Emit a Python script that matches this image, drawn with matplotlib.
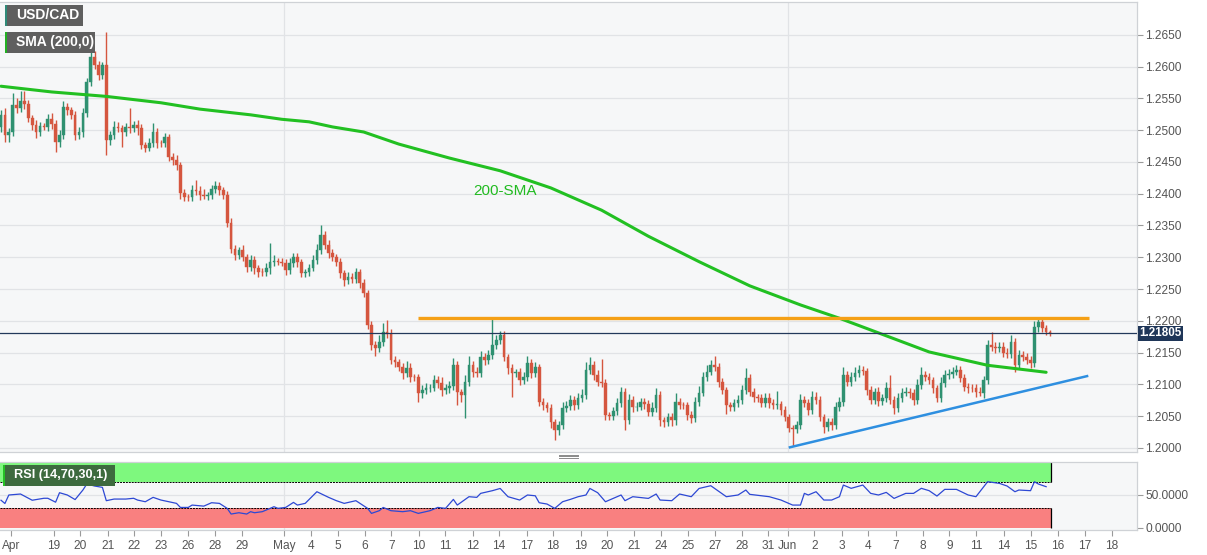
import numpy as np
import matplotlib.pyplot as plt
from matplotlib.patches import Rectangle
from matplotlib.lines import Line2D

plt.rcParams['font.family'] = ['Liberation Sans', 'DejaVu Sans']

# ---- data (4H candles) ----
first_open = 1.2505
closes = [
    1.2524, 1.2492, 1.2497, 1.2539, 1.2535, 1.2546, 1.2541, 1.2519, 1.2508, 1.2497,
    1.2506, 1.2505, 1.2517, 1.2510, 1.2481, 1.2492, 1.2536, 1.2532, 1.2524, 1.2492,
    1.2497, 1.2527, 1.2576, 1.2615, 1.2602, 1.2587, 1.2602, 1.2484, 1.2492, 1.2505,
    1.2503, 1.2497, 1.2505, 1.2503, 1.2508, 1.2503, 1.2477, 1.2472, 1.2480, 1.2497,
    1.2480, 1.2479, 1.2489, 1.2458, 1.2453, 1.2445, 1.2401, 1.2395, 1.2394, 1.2406,
    1.2404, 1.2398, 1.2396, 1.2398, 1.2407, 1.2412, 1.2406, 1.2398, 1.2354, 1.2313,
    1.2303, 1.2311, 1.2300, 1.2285, 1.2296, 1.2283, 1.2277, 1.2276, 1.2283, 1.2292,
    1.2294, 1.2293, 1.2291, 1.2280, 1.2291, 1.2300, 1.2292, 1.2275, 1.2276, 1.2283,
    1.2296, 1.2311, 1.2335, 1.2319, 1.2307, 1.2300, 1.2292, 1.2275, 1.2264, 1.2269,
    1.2266, 1.2277, 1.2259, 1.2244, 1.2193, 1.2162, 1.2157, 1.2167, 1.2182, 1.2179,
    1.2138, 1.2135, 1.2127, 1.2118, 1.2126, 1.2112, 1.2111, 1.2087, 1.2091, 1.2094,
    1.2095, 1.2107, 1.2102, 1.2091, 1.2094, 1.2097, 1.2130, 1.2088, 1.2083, 1.2104,
    1.2130, 1.2120, 1.2118, 1.2143, 1.2138, 1.2146, 1.2162, 1.2170, 1.2178, 1.2143,
    1.2126, 1.2118, 1.2119, 1.2107, 1.2112, 1.2134, 1.2118, 1.2127, 1.2072, 1.2068,
    1.2063, 1.2041, 1.2028, 1.2036, 1.2063, 1.2066, 1.2075, 1.2068, 1.2079, 1.2083,
    1.2123, 1.2130, 1.2115, 1.2104, 1.2102, 1.2052, 1.2050, 1.2058, 1.2071, 1.2088,
    1.2044, 1.2075, 1.2064, 1.2065, 1.2072, 1.2069, 1.2057, 1.2063, 1.2083, 1.2044,
    1.2041, 1.2049, 1.2044, 1.2072, 1.2068, 1.2067, 1.2052, 1.2047, 1.2072, 1.2087,
    1.2112, 1.2120, 1.2130, 1.2127, 1.2104, 1.2091, 1.2068, 1.2064, 1.2071, 1.2075,
    1.2091, 1.2110, 1.2088, 1.2080, 1.2079, 1.2071, 1.2078, 1.2071, 1.2068, 1.2069,
    1.2060, 1.2049, 1.2031, 1.2030, 1.2036, 1.2075, 1.2071, 1.2060, 1.2080, 1.2075,
    1.2049, 1.2033, 1.2041, 1.2036, 1.2064, 1.2072, 1.2115, 1.2104, 1.2112, 1.2118,
    1.2123, 1.2121, 1.2091, 1.2075, 1.2088, 1.2074, 1.2079, 1.2094, 1.2075, 1.2063,
    1.2079, 1.2087, 1.2088, 1.2086, 1.2075, 1.2099, 1.2115, 1.2112, 1.2107, 1.2094,
    1.2079, 1.2102, 1.2115, 1.2116, 1.2120, 1.2123, 1.2110, 1.2096, 1.2095, 1.2094,
    1.2088, 1.2087, 1.2107, 1.2162, 1.2159, 1.2157, 1.2158, 1.2149, 1.2148, 1.2167,
    1.2130, 1.2146, 1.2143, 1.2138, 1.2134, 1.2190, 1.2198, 1.2189, 1.2182, 1.21805,
]
# wick lengths beyond the body, in pips
wick_up = [
    8, 10, 6, 20, 12, 15, 15, 6, 5, 8,
    6, 5, 8, 10, 6, 8, 10, 6, 5, 6,
    8, 8, 6, 8, 10, 6, 5, 53, 6, 10,
    8, 5, 6, 30, 6, 8, 6, 4, 8, 14,
    6, 5, 6, 5, 6, 8, 5, 6, 5, 8,
    15, 8, 10, 4, 6, 8, 6, 5, 6, 8,
    6, 5, 8, 5, 8, 6, 5, 6, 8, 30,
    10, 5, 6, 6, 8, 6, 6, 5, 5, 6,
    8, 10, 15, 6, 8, 6, 5, 6, 5, 8,
    6, 6, 5, 6, 5, 6, 6, 10, 15, 20,
    8, 6, 5, 6, 10, 8, 5, 6, 8, 8,
    6, 8, 6, 10, 6, 8, 12, 6, 5, 10,
    15, 6, 8, 10, 6, 8, 41, 8, 6, 6,
    5, 6, 5, 6, 8, 10, 6, 8, 5, 6,
    5, 6, 4, 6, 10, 8, 8, 6, 8, 10,
    12, 13, 6, 8, 36, 6, 5, 6, 8, 8,
    6, 10, 6, 8, 6, 6, 6, 10, 12, 6,
    5, 6, 6, 15, 6, 5, 6, 6, 8, 10,
    8, 10, 8, 14, 6, 6, 5, 5, 6, 8,
    8, 15, 6, 6, 5, 6, 8, 8, 6, 20,
    5, 6, 5, 5, 6, 10, 6, 6, 10, 8,
    6, 5, 6, 6, 8, 8, 12, 6, 8, 10,
    8, 6, 5, 6, 6, 8, 6, 10, 20, 6,
    8, 8, 8, 6, 6, 10, 12, 6, 6, 5,
    5, 10, 8, 8, 8, 8, 6, 6, 6, 5,
    6, 8, 6, 8, 20, 8, 8, 8, 8, 10,
    6, 8, 6, 6, 6, 10, 6, 5, 5, 4,
]
wick_dn = [
    8, 10, 10, 6, 8, 6, 8, 6, 8, 10,
    6, 5, 6, 8, 15, 8, 6, 8, 6, 8,
    6, 8, 6, 6, 6, 8, 6, 23, 8, 6,
    6, 24, 6, 8, 6, 10, 6, 6, 5, 6,
    8, 5, 6, 6, 8, 8, 10, 6, 5, 6,
    6, 8, 5, 6, 6, 6, 8, 6, 6, 6,
    8, 6, 6, 8, 6, 10, 8, 6, 6, 10,
    6, 6, 5, 8, 6, 6, 8, 6, 6, 6,
    5, 6, 6, 6, 8, 6, 6, 8, 10, 6,
    6, 6, 8, 6, 6, 8, 12, 6, 6, 6,
    6, 8, 6, 10, 6, 8, 6, 15, 8, 6,
    6, 6, 8, 10, 6, 8, 6, 20, 10, 36,
    6, 8, 6, 6, 8, 6, 6, 6, 6, 6,
    10, 38, 6, 8, 6, 6, 8, 6, 6, 8,
    6, 10, 16, 8, 6, 6, 6, 8, 6, 6,
    6, 6, 8, 6, 6, 8, 6, 6, 6, 6,
    16, 6, 8, 6, 6, 8, 6, 6, 6, 10,
    8, 6, 10, 8, 6, 6, 8, 8, 6, 6,
    6, 6, 6, 6, 8, 6, 15, 6, 6, 6,
    6, 6, 6, 8, 6, 6, 6, 8, 6, 6,
    8, 6, 6, 27, 6, 6, 6, 8, 6, 6,
    6, 10, 6, 8, 6, 6, 6, 6, 6, 6,
    6, 6, 8, 6, 6, 8, 6, 6, 6, 10,
    6, 6, 6, 8, 8, 6, 6, 6, 6, 8,
    6, 6, 6, 6, 6, 6, 6, 6, 8, 6,
    8, 6, 8, 6, 6, 8, 6, 6, 6, 6,
    10, 6, 6, 6, 8, 6, 8, 6, 5, 4,
]

# 200-period SMA (candle index, value)
sma_idx = [0, 13, 27, 41, 51, 64, 72, 79, 85, 93, 102, 115, 128, 141, 154,
           166, 179, 192, 205, 215, 225, 238, 253, 268]
sma_val = [1.2569, 1.2560, 1.2553, 1.2543, 1.2533, 1.2524, 1.2517, 1.2513, 1.2505,
           1.2497, 1.2478, 1.2456, 1.2436, 1.2409, 1.2374, 1.2333, 1.2293, 1.2255,
           1.2225, 1.2204, 1.2181, 1.2151, 1.2130, 1.2119]

# RSI(14) (candle index, value)
rsi_idx = [0, 1, 2, 5, 8, 11, 12, 14, 15, 17, 19, 21, 22, 24, 26, 27, 29, 32, 34, 35,
           37, 39, 41, 43, 45, 46, 48, 49, 52, 54, 56, 58, 59, 61, 63, 64, 65, 67, 68,
           70, 71, 73, 75, 76, 78, 81, 84, 86, 88, 91, 94, 95, 97, 98, 100, 103, 105,
           107, 110, 112, 114, 116, 117, 120, 122, 123, 126, 128, 130, 133, 135, 137,
           138, 140, 142, 144, 146, 148, 150, 151, 153, 155, 159, 160, 162, 166, 168,
           169, 172, 174, 177, 179, 182, 186, 189, 191, 192, 197, 200, 203, 205, 206,
           207, 209, 211, 213, 215, 216, 218, 221, 223, 225, 227, 229, 232, 234, 236,
           238, 240, 242, 245, 248, 250, 253, 256, 258, 260, 261, 264, 265, 266, 268]
rsi_val = [42, 37, 50, 51.5, 42, 45, 45, 39, 53.5, 50, 43, 57.6, 66.8, 63.7, 61.7, 41.3,
           43.8, 43.8, 45, 42.3, 39.7, 46.4, 42.3, 39.7, 37.2, 31, 31, 34.6, 33, 38.2,
           37.2, 29.6, 20.9, 22.9, 20.9, 24.5, 22.9, 24.5, 27, 32.1, 29.6, 31, 38.7,
           34.6, 37.2, 55, 46.4, 41.3, 37.2, 41.3, 29.6, 21.9, 26, 31, 26, 24.5, 26,
           21.9, 26, 31, 29.6, 43.3, 34.6, 47.4, 46.4, 52.5, 56.6, 60, 47.4, 42.3, 50,
           48.8, 38.2, 36.2, 29.6, 39.7, 43.3, 47.4, 50, 60, 53.5, 39.7, 50, 41.3, 47.4,
           44.8, 51.5, 42.3, 41.3, 51.5, 47.4, 60, 64.2, 47.4, 50, 57.6, 51, 47.4, 42.3,
           34.6, 34.6, 52.5, 50, 55, 42.3, 42.3, 47.4, 65.2, 60.2, 65.2, 52.5, 50, 54,
           44.8, 52.5, 52.5, 60.2, 56.6, 48.4, 58.6, 58.6, 50, 47.4, 70.3, 67.8, 63.7,
           55, 57.6, 56.6, 70.3, 66.8, 62.7]

tick_labels = ['Apr', '19', '20', '21', '22', '23', '26', '28', '29', 'May', '4', '5',
               '6', '7', '10', '11', '12', '14', '17', '18', '19', '20', '21', '24',
               '25', '27', '28', '31', 'Jun', '2', '3', '4', '7', '8', '9', '11', '14',
               '15', '16', '17', '18']
tick_idx = [2.6, 13.6, 20.3, 27.4, 34.1, 41.0, 47.9, 54.9, 61.8, 72.6, 79.5, 86.4,
            93.3, 100.1, 107.2, 113.8, 121.0, 127.7, 134.9, 141.5, 148.7, 155.3,
            162.3, 169.2, 176.1, 183.1, 190.0, 196.8, 201.7, 208.6, 215.6, 222.4,
            229.4, 236.3, 243.2, 250.1, 257.1, 264.0, 271.0, 277.9, 284.8]
month_idx = [72.6, 201.7]

resistance = 1.2205
res_idx = [107, 279]
support_idx = [202.3, 278.5]
support_val = [1.2001, 1.2113]
last_price = 1.21805

# ---- build candles ----
closes = np.array(closes)
opens = np.r_[first_open, closes[:-1]]
highs = np.maximum(opens, closes) + np.array(wick_up) * 1e-4
lows = np.minimum(opens, closes) - np.array(wick_dn) * 1e-4
x = np.arange(len(closes))
up = closes >= opens
GREEN, RED = '#2f9171', '#d5563f'
colors = np.where(up, GREEN, RED)

W, H = 1207, 555
fig = plt.figure(figsize=(W / 100, H / 100), dpi=100)
fig.patch.set_facecolor('white')


def fx(px):
    return px / W


def fy(py):
    return 1 - py / H


ax = fig.add_axes([0, fy(452), fx(1137), fy(2) - fy(452)])
ax2 = fig.add_axes([0, fy(530), fx(1137), fy(461.7) - fy(530)])
XLIM = (-0.26, 291.3)
BG = '#f6f7f8'

for a in (ax, ax2):
    a.set_facecolor(BG)
    a.set_xlim(*XLIM)
    a.spines['left'].set_visible(False)
    for s in ('right', 'top', 'bottom'):
        a.spines[s].set_color('#cfd2d6')
        a.spines[s].set_linewidth(0.9)
    a.yaxis.tick_right()
    a.tick_params(axis='y', colors='#9a9a9a', labelcolor='#555555', labelsize=8.6,
                  length=4, width=0.8, pad=2)
    for m in month_idx:
        a.axvline(m, color='#e1e3e6', lw=0.9, zorder=0)

# main price panel
ax.set_ylim(1.19936, 1.27015)
yt = np.arange(1.2000, 1.26501, 0.005)
ax.set_yticks(yt)
ax.set_yticklabels([f'{v:.4f}' for v in yt])
ax.grid(axis='y', color='#e1e3e6', lw=0.9)
ax.set_axisbelow(True)
ax.tick_params(axis='x', bottom=False, labelbottom=False)

ax.vlines(x, lows, highs, colors=colors, lw=1.0, zorder=3)
body = np.maximum(np.abs(closes - opens), 0.00006)
ax.bar(x, body, bottom=np.minimum(opens, closes), width=0.68, color=colors,
       edgecolor=colors, linewidth=0.3, zorder=4)

ax.plot(sma_idx, sma_val, color='#22c022', lw=2.2, zorder=5, solid_capstyle='round')
ax.text(129.2, 1.2404, '200-SMA', color='#22bb22', fontsize=11, ha='center',
        va='center', zorder=6)
ax.hlines(resistance, res_idx[0], res_idx[1], color='#f5a016', lw=2.4, zorder=5)
ax.plot(support_idx, support_val, color='#2e8fe0', lw=1.8, zorder=5)
ax.axhline(last_price, color='#23395b', lw=0.9, zorder=5)
ax.text(1.002, last_price, '1.21805', transform=ax.get_yaxis_transform(), ha='left',
        va='center', color='white', fontweight='bold', fontsize=8.4, zorder=7,
        bbox=dict(boxstyle='square,pad=0.12', fc='#1f3658', ec='none'))

# RSI panel
ax2.set_ylim(-3.5, 100.9)
ax2.set_yticks([0, 50])
ax2.set_yticklabels(['0.0000', '50.0000'])
ax2.axhline(50, color='#e1e3e6', lw=0.9, zorder=0)
x_end = x[-1] + 0.3
ax2.add_patch(Rectangle((XLIM[0], 70), x_end - XLIM[0], 30.9, fc='#7ef87e', ec='none', zorder=1))
ax2.add_patch(Rectangle((XLIM[0], 0), x_end - XLIM[0], 30, fc='#f98080', ec='none', zorder=1))
ax2.hlines([70, 30], XLIM[0], x_end, colors='black', lw=0.7, linestyles=(0, (2, 1)), zorder=2)
ax2.vlines(x_end, 70, 100.9, colors='black', lw=0.9, zorder=2)
ax2.vlines(x_end, 0, 30, colors='black', lw=0.9, zorder=2)
ax2.plot(rsi_idx, rsi_val, color='#2d48d4', lw=0.9, zorder=3)
ax2.set_xticks(tick_idx)
ax2.set_xticklabels(tick_labels)
ax2.tick_params(axis='x', colors='#9a9a9a', labelcolor='#555555', labelsize=8.6,
                length=4, width=0.8, pad=3)


# legend boxes at top-left of each panel
def label_box(x0, y0, x1, y1, text, accent, fc, size):
    fig.add_artist(Rectangle((fx(x0), fy(y1)), fx(x1 - x0), fy(y0) - fy(y1),
                             transform=fig.transFigure, fc=fc, ec='none', zorder=10))
    fig.add_artist(Rectangle((fx(x0), fy(y1)), fx(2), fy(y0) - fy(y1),
                             transform=fig.transFigure, fc=accent, ec='none', zorder=11))
    fig.text(fx(x0 + 11), fy((y0 + y1) / 2), text, color='white', fontsize=size,
             fontweight='bold', va='center', ha='left', zorder=12)


label_box(5, 5, 83, 25.7, 'USD/CAD', '#2f8a78', '#5f5f5f', 10)
label_box(5, 32, 95, 52.5, 'SMA (200,0)', '#22b022', '#5f5f5f', 10)
label_box(3, 465, 115, 485.7, 'RSI (14,70,30,1)', '#25c025', '#3d6a3e', 9.2)

# panel resize handle
for dy in (454.5, 456.3, 458.1):
    fig.add_artist(Line2D([fx(559), fx(578)], [fy(dy), fy(dy)], color='#8a8a8a',
                          lw=0.7, transform=fig.transFigure))

fig.savefig('out.png', dpi=100, facecolor='white')
